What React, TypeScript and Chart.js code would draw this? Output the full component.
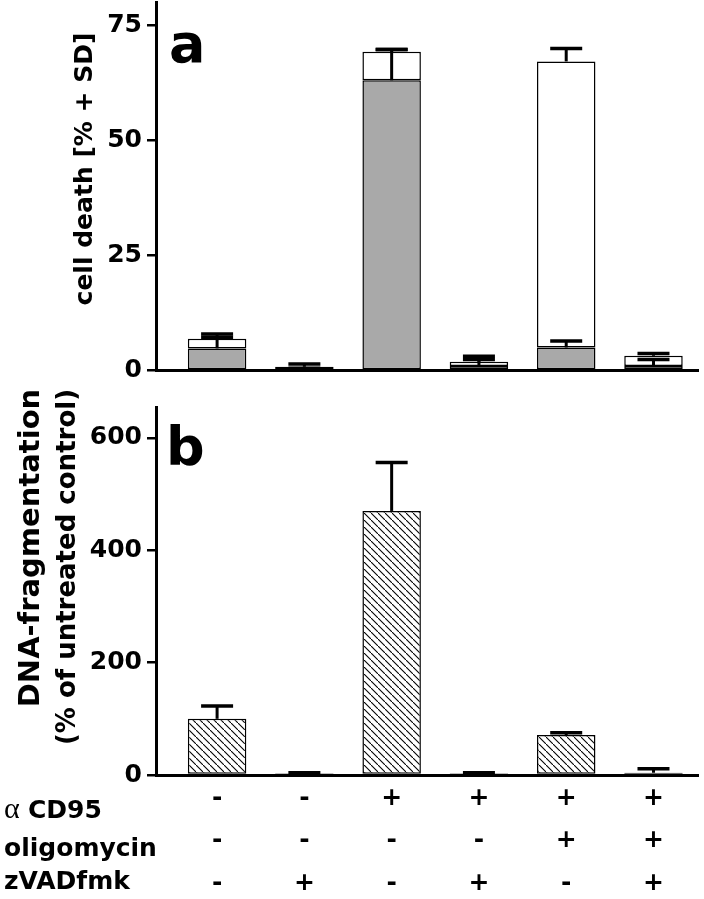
import React, { useEffect, useRef } from 'react';
import { Chart, registerables } from 'chart.js';

Chart.register(...registerables);

// ---- data ----
const conditionIndex = [0, 1, 2, 3, 4, 5];
const rowLabels = ['CD95', 'oligomycin', 'zVADfmk'];
const aCD95Signs = ['-', '-', '+', '+', '+', '+'];
const oligomycinSigns = ['-', '-', '-', '-', '+', '+'];
const zVADfmkSigns = ['-', '+', '-', '+', '-', '+'];

// panel a: cell death, stacked (gray bottom part + white top part)
const grayValues = [4.8, 0.3, 63.0, 1.0, 5.0, 1.0];
const whiteValues = [2.1, 0.5, 6.2, 0.9, 62.1, 2.2];
const graySD = [2.4, 0.2, 6.7, 1.4, 1.4, 1.4];
const whiteSD = [1.0, 0.6, 0.5, 1.2, 2.8, 0.5];
const cellDeathTicks = [0, 25, 50, 75];

// panel b: DNA fragmentation
const dnaValues = [100, 3, 470, 3, 71, 4];
const dnaSD = [23, 1, 86, 1, 4, 7];
const dnaTicks = [0, 200, 400, 600];

const SANS = '"DejaVu Sans", sans-serif';

function hatchPattern(): CanvasPattern | string {
  const c = document.createElement('canvas');
  c.width = 7;
  c.height = 7;
  const g = c.getContext('2d');
  if (!g) return '#fff';
  g.fillStyle = '#fff';
  g.fillRect(0, 0, 7, 7);
  g.strokeStyle = '#000';
  g.lineWidth = 1.1;
  g.beginPath();
  g.moveTo(-1, -1);
  g.lineTo(8, 8);
  g.stroke();
  return g.createPattern(c, 'repeat') || '#fff';
}

type ErrSpec = { top: number[]; sd: number[] };

function errorBarPlugin(specs: ErrSpec[]) {
  return {
    id: 'errorBars',
    afterDatasetsDraw(chart: any) {
      const ctx = chart.ctx;
      const xs = chart.scales.x;
      const ys = chart.scales.y;
      ctx.save();
      ctx.strokeStyle = '#000';
      ctx.lineCap = 'butt';
      specs.forEach((s) => {
        s.top.forEach((t, i) => {
          const px = xs.getPixelForValue(conditionIndex[i]);
          const y0 = ys.getPixelForValue(t);
          const y1 = ys.getPixelForValue(t + s.sd[i]);
          ctx.lineWidth = 3;
          ctx.beginPath();
          ctx.moveTo(px, y0);
          ctx.lineTo(px, y1);
          ctx.stroke();
          ctx.lineWidth = 3.5;
          ctx.beginPath();
          ctx.moveTo(px - 16, y1);
          ctx.lineTo(px + 16, y1);
          ctx.stroke();
        });
      });
      ctx.restore();
    },
  };
}

function rotatedText(ctx: CanvasRenderingContext2D, text: string, x: number, y: number, font: string) {
  ctx.save();
  ctx.translate(x, y);
  ctx.rotate(-Math.PI / 2);
  ctx.font = font;
  ctx.textAlign = 'center';
  ctx.textBaseline = 'alphabetic';
  ctx.fillStyle = '#000';
  ctx.fillText(text, 0, 0);
  ctx.restore();
}

function yScale(max: number, ticks: number[]) {
  return {
    type: 'linear',
    min: 0,
    max,
    stacked: true,
    afterBuildTicks: (s: any) => {
      s.ticks = ticks.map((v) => ({ value: v }));
    },
    afterFit: (s: any) => {
      s.width = 156;
      s.paddingTop = 0;
      s.paddingBottom = 0;
    },
    ticks: {
      color: '#000',
      padding: 5,
      font: { family: SANS, weight: 'bold', size: 25 },
    },
    grid: {
      display: true,
      drawOnChartArea: false,
      drawTicks: true,
      tickLength: 9,
      color: '#000',
      lineWidth: 2.5,
    },
    border: { display: true, color: '#000', width: 3 },
  };
}

function xScale(showTicks: boolean, height: number) {
  return {
    type: 'linear',
    min: -0.7,
    max: 5.51,
    stacked: true,
    offset: false,
    afterBuildTicks: (s: any) => {
      s.ticks = conditionIndex.map((v) => ({ value: v }));
    },
    afterFit: (s: any) => {
      s.height = height;
      s.paddingLeft = 0;
      s.paddingRight = 0;
    },
    ticks: {
      display: showTicks,
      autoSkip: false,
      maxRotation: 0,
      minRotation: 0,
      padding: 1.75,
      color: '#000',
      font: { family: SANS, weight: 'bold', size: 25, lineHeight: '42.5px' },
      callback: (v: number) => {
        const i = Math.round(v);
        return [aCD95Signs[i], oligomycinSigns[i], zVADfmkSigns[i]];
      },
    },
    grid: { display: false, drawTicks: false },
    border: { display: true, color: '#000', width: 3 },
  };
}

export default function App() {
  const refA = useRef<HTMLCanvasElement | null>(null);
  const refB = useRef<HTMLCanvasElement | null>(null);

  useEffect(() => {
    document.body.style.margin = '0';
    const grayTop = grayValues.map((g) => g);
    const totalTop = grayValues.map((g, i) => g + whiteValues[i]);

    const textA = {
      id: 'textA',
      afterDraw(chart: any) {
        const ctx = chart.ctx as CanvasRenderingContext2D;
        rotatedText(ctx, 'cell death [% + SD]', 92, 169, `bold 25px ${SANS}`);
        ctx.save();
        ctx.font = `bold 54px ${SANS}`;
        ctx.fillStyle = '#000';
        ctx.textBaseline = 'alphabetic';
        ctx.textAlign = 'left';
        ctx.fillText('a', 169, 62);
        ctx.restore();
      },
    };

    const chartA = new Chart(refA.current as HTMLCanvasElement, {
      type: 'bar',
      data: {
        datasets: [
          {
            label: 'gray',
            data: conditionIndex.map((x, i) => ({ x, y: grayValues[i] })),
            backgroundColor: '#a9a9a9',
            borderColor: '#000',
            borderWidth: 1.5,
            borderSkipped: false,
          },
          {
            label: 'white',
            data: conditionIndex.map((x, i) => ({ x, y: whiteValues[i] })),
            backgroundColor: '#fff',
            borderColor: '#000',
            borderWidth: 1.5,
            borderSkipped: false,
          },
        ],
      } as any,
      options: {
        responsive: false,
        animation: false,
        events: [],
        barPercentage: 0.67,
        categoryPercentage: 1,
        layout: { padding: { top: 2, right: 6, left: 0, bottom: 0 } },
        plugins: { legend: { display: false }, tooltip: { enabled: false } },
        scales: {
          x: xScale(false, 9.5),
          y: yScale(80, cellDeathTicks),
        },
      } as any,
      plugins: [
        errorBarPlugin([
          { top: grayTop, sd: graySD },
          { top: totalTop, sd: whiteSD },
        ]),
        textA,
      ] as any,
    });

    const textB = {
      id: 'textB',
      afterDraw(chart: any) {
        const ctx = chart.ctx as CanvasRenderingContext2D;
        rotatedText(ctx, 'DNA-fragmentation', 39, 168, `bold 29px ${SANS}`);
        rotatedText(ctx, '(% of untreated control)', 75, 187, `bold 26px ${SANS}`);
        ctx.save();
        ctx.fillStyle = '#000';
        ctx.textBaseline = 'alphabetic';
        ctx.textAlign = 'left';
        ctx.font = `bold 54px ${SANS}`;
        ctx.fillText('b', 166, 85);
        ctx.font = `30px "Liberation Serif", serif`;
        ctx.fillText('\u03b1', 4, 438);
        ctx.font = `bold 25px ${SANS}`;
        ctx.fillText(rowLabels[0], 28, 438);
        ctx.fillText(rowLabels[1], 4, 476);
        ctx.fillText(rowLabels[2], 4, 509);
        ctx.restore();
      },
    };

    const chartB = new Chart(refB.current as HTMLCanvasElement, {
      type: 'bar',
      data: {
        datasets: [
          {
            label: 'DNA',
            data: conditionIndex.map((x, i) => ({ x, y: dnaValues[i] })),
            backgroundColor: hatchPattern(),
            borderColor: '#000',
            borderWidth: 1.5,
            borderSkipped: false,
          },
        ],
      } as any,
      options: {
        responsive: false,
        animation: false,
        events: [],
        barPercentage: 0.67,
        categoryPercentage: 1,
        layout: { padding: { top: 27, right: 6, left: 0, bottom: 0 } },
        plugins: { legend: { display: false }, tooltip: { enabled: false } },
        scales: {
          x: xScale(true, 124),
          y: yScale(655, dnaTicks),
        },
      } as any,
      plugins: [errorBarPlugin([{ top: dnaValues, sd: dnaSD }]), textB] as any,
    });

    return () => {
      chartA.destroy();
      chartB.destroy();
    };
  }, []);

  return (
    <div style={{ position: 'fixed', left: 0, top: 0, width: 704, height: 899, background: '#fff' }}>
      <canvas
        ref={refA}
        width={704}
        height={380}
        style={{ position: 'absolute', left: 0, top: 0, width: 704, height: 380, display: 'block' }}
      />
      <canvas
        ref={refB}
        width={704}
        height={519}
        style={{ position: 'absolute', left: 0, top: 380, width: 704, height: 519, display: 'block' }}
      />
    </div>
  );
}
